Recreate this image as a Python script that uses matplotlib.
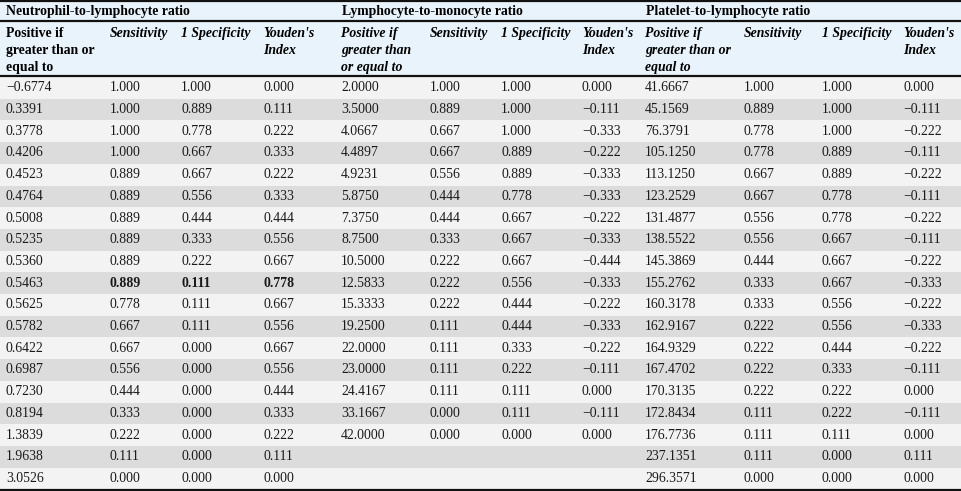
import matplotlib.pyplot as plt

plt.rcParams['font.family'] = ['Liberation Serif', 'DejaVu Serif']

groups = ["Neutrophil-to-lymphocyte ratio", "Lymphocyte-to-monocyte ratio", "Platelet-to-lymphocyte ratio"]
col_heads = [
    "Positive if\ngreater than or\nequal to", "Sensitivity", "1 Specificity", "Youden's\nIndex",
    "Positive if\ngreater than\nor equal to", "Sensitivity", "1 Specificity", "Youden's\nIndex",
    "Positive if\ngreater than or\nequal to", "Sensitivity", "1 Specificity", "Youden's\nIndex",
]

nlr_cut = ["\u22120.6774", "0.3391", "0.3778", "0.4206", "0.4523", "0.4764", "0.5008", "0.5235", "0.5360",
           "0.5463", "0.5625", "0.5782", "0.6422", "0.6987", "0.7230", "0.8194", "1.3839", "1.9638", "3.0526"]
nlr_sens = [1.000, 1.000, 1.000, 1.000, 0.889, 0.889, 0.889, 0.889, 0.889, 0.889,
            0.778, 0.667, 0.667, 0.556, 0.444, 0.333, 0.222, 0.111, 0.000]
nlr_spec = [1.000, 0.889, 0.778, 0.667, 0.667, 0.556, 0.444, 0.333, 0.222, 0.111,
            0.111, 0.111, 0.000, 0.000, 0.000, 0.000, 0.000, 0.000, 0.000]
nlr_you = [0.000, 0.111, 0.222, 0.333, 0.222, 0.333, 0.444, 0.556, 0.667, 0.778,
           0.667, 0.556, 0.667, 0.556, 0.444, 0.333, 0.222, 0.111, 0.000]

lmr_cut = ["2.0000", "3.5000", "4.0667", "4.4897", "4.9231", "5.8750", "7.3750", "8.7500", "10.5000",
           "12.5833", "15.3333", "19.2500", "22.0000", "23.0000", "24.4167", "33.1667", "42.0000"]
lmr_sens = [1.000, 0.889, 0.667, 0.667, 0.556, 0.444, 0.444, 0.333, 0.222, 0.222,
            0.222, 0.111, 0.111, 0.111, 0.111, 0.000, 0.000]
lmr_spec = [1.000, 1.000, 1.000, 0.889, 0.889, 0.778, 0.667, 0.667, 0.667, 0.556,
            0.444, 0.444, 0.333, 0.222, 0.111, 0.111, 0.000]
lmr_you = [0.000, -0.111, -0.333, -0.222, -0.333, -0.333, -0.222, -0.333, -0.444, -0.333,
           -0.222, -0.333, -0.222, -0.111, 0.000, -0.111, 0.000]

plr_cut = ["41.6667", "45.1569", "76.3791", "105.1250", "113.1250", "123.2529", "131.4877", "138.5522",
           "145.3869", "155.2762", "160.3178", "162.9167", "164.9329", "167.4702", "170.3135", "172.8434",
           "176.7736", "237.1351", "296.3571"]
plr_sens = [1.000, 0.889, 0.778, 0.778, 0.667, 0.667, 0.556, 0.556, 0.444, 0.333,
            0.333, 0.222, 0.222, 0.222, 0.222, 0.111, 0.111, 0.111, 0.000]
plr_spec = [1.000, 1.000, 1.000, 0.889, 0.889, 0.778, 0.778, 0.667, 0.667, 0.667,
            0.556, 0.556, 0.444, 0.333, 0.222, 0.222, 0.111, 0.000, 0.000]
plr_you = [0.000, -0.111, -0.222, -0.111, -0.222, -0.111, -0.222, -0.111, -0.222, -0.333,
           -0.222, -0.333, -0.222, -0.111, 0.000, -0.111, 0.000, 0.111, 0.000]

best_row = 9  # bold row for NLR (optimal cut-off)


def fmt(v):
    s = "%.3f" % abs(v)
    return ("\u2212" + s) if v < 0 else s


cols = [nlr_cut, [fmt(v) for v in nlr_sens], [fmt(v) for v in nlr_spec], [fmt(v) for v in nlr_you],
        lmr_cut, [fmt(v) for v in lmr_sens], [fmt(v) for v in lmr_spec], [fmt(v) for v in lmr_you],
        plr_cut, [fmt(v) for v in plr_sens], [fmt(v) for v in plr_spec], [fmt(v) for v in plr_you]]

W, H = 961, 491
col_x = [6, 110, 181, 263, 341, 430, 501, 582, 645, 744, 822, 903]
group_x = [6, 342, 646]
top_body = 77
row_h = 21.7
n_rows = max(len(c) for c in cols)
fs = 9.9

fig = plt.figure(figsize=(W / 100, H / 100), dpi=100)
ax = fig.add_axes([0, 0, 1, 1])
ax.set_xlim(0, W)
ax.set_ylim(H, 0)
ax.axis('off')

# backgrounds
ax.axhspan(0, top_body, color='#e9f3fb', lw=0)
for i in range(n_rows):
    y0 = top_body + i * row_h
    ax.axhspan(y0, y0 + row_h, color='#f3f3f3' if i % 2 == 0 else '#dcdcdd', lw=0)

# rules
for y in [1, 21, 76, 490]:
    ax.axhline(y, color='#111111', lw=1.6)

for g, x in zip(groups, group_x):
    ax.text(x, 11.5, g, fontsize=fs, fontweight='bold', va='center', ha='left')

# header lines are ~17 px apart, place each line explicitly
for j, (h, x) in enumerate(zip(col_heads, col_x)):
    for k, line in enumerate(h.split("\n")):
        ax.text(x, 33.5 + k * 17, line, fontsize=fs, fontweight='bold',
                style='normal' if j == 0 else 'italic', va='center', ha='left')

for j, (c, x) in enumerate(zip(cols, col_x)):
    for i, s in enumerate(c):
        yc = top_body + (i + 0.5) * row_h
        bold = (i == best_row and j in (1, 2, 3))
        ax.text(x, yc, s, fontsize=fs, va='center', ha='left',
                fontweight='bold' if bold else 'normal', color='#1a1a1a')

fig.savefig('out.png', dpi=100)
